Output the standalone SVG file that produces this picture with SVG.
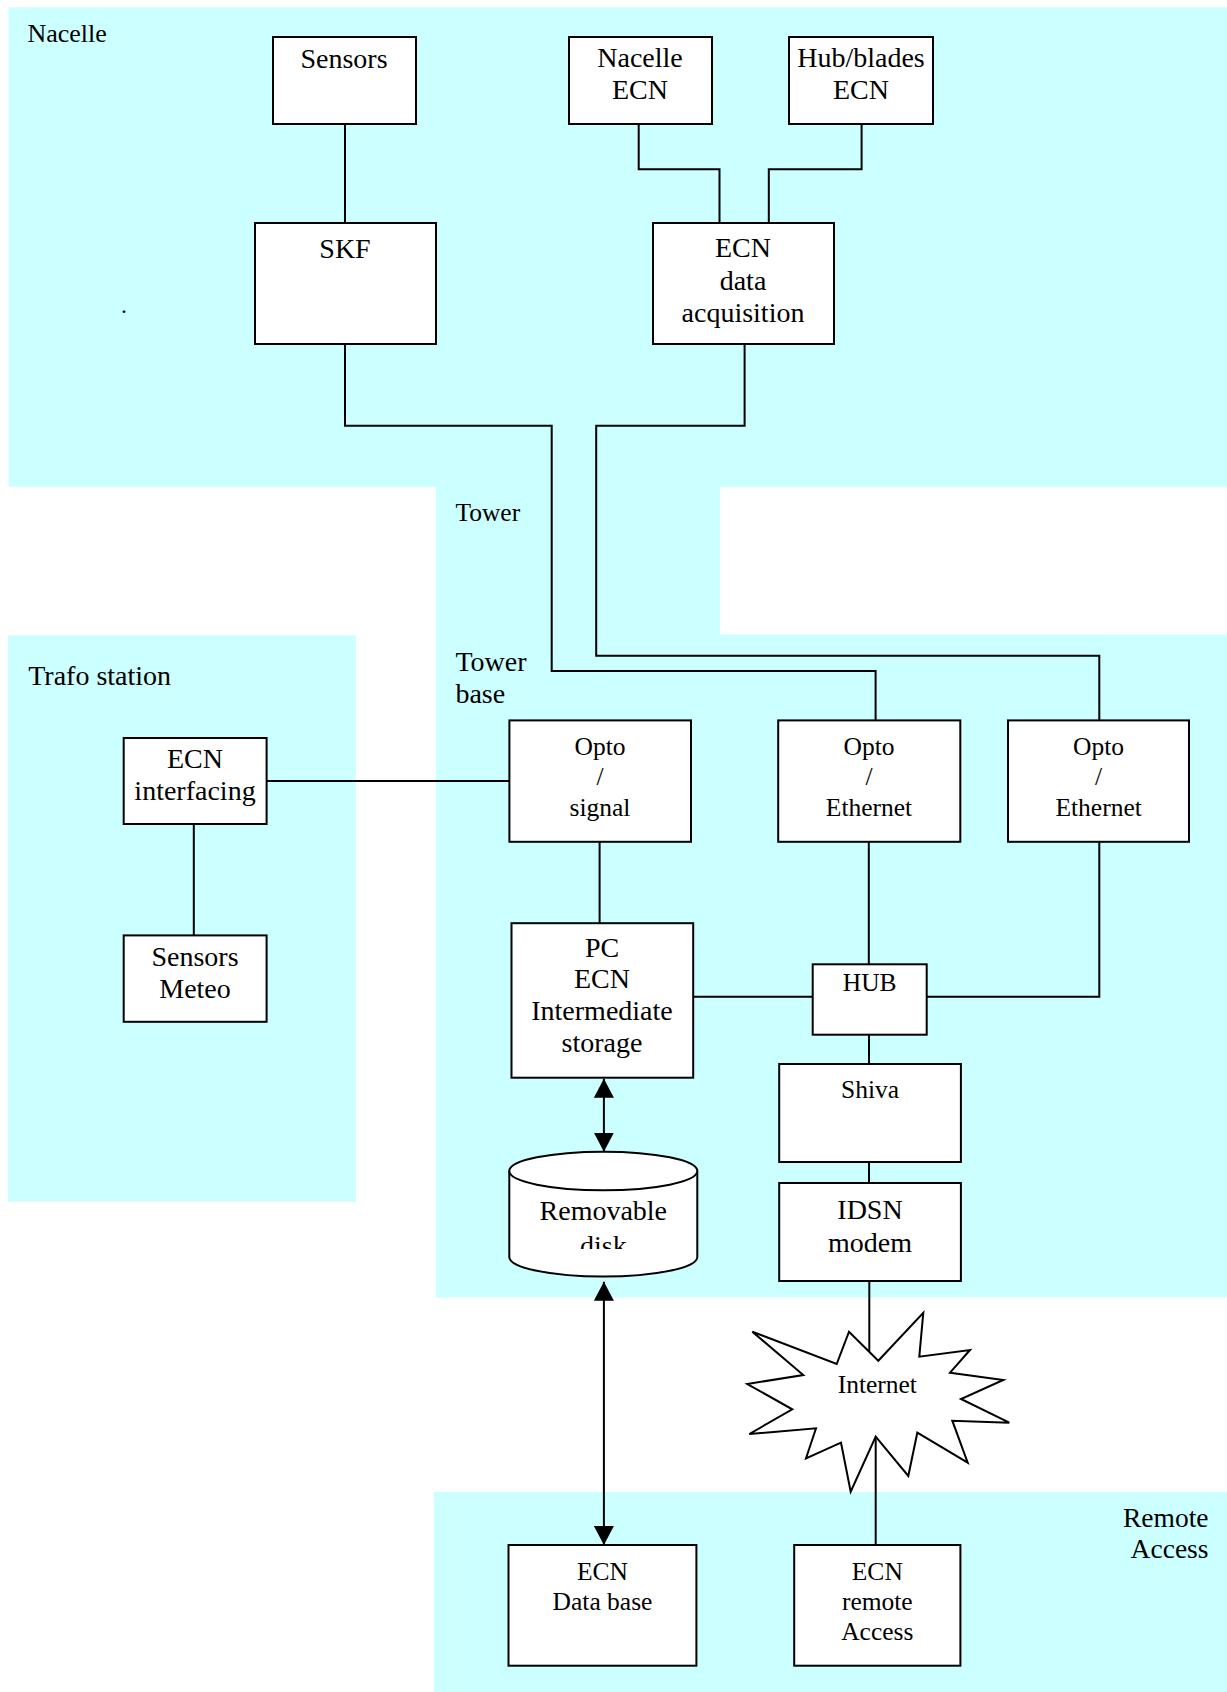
<svg xmlns="http://www.w3.org/2000/svg" width="1227" height="1692" viewBox="0 0 1227 1692">
<style>
.panel{fill:#CCFFFF;stroke:none}
.box{fill:#FFFFFF;stroke:#000;stroke-width:2}
.t{font-family:"Liberation Serif","Times New Roman",serif;font-size:28px;fill:#000;text-anchor:middle}
.s{font-size:25.5px}
.lbl{font-family:"Liberation Serif","Times New Roman",serif;fill:#000}
.wire{fill:none;stroke:#000;stroke-width:2}
</style>
<defs>
<marker id="arr" viewBox="0 0 19 20" refX="19" refY="10" markerWidth="19" markerHeight="20" markerUnits="userSpaceOnUse" orient="auto-start-reverse">
<path d="M0,0 L19,10 L0,20 Z" fill="#000"/>
</marker>
<clipPath id="diskclip"><rect x="500" y="1140" width="210" height="109"/></clipPath>
</defs>
<rect width="1227" height="1692" fill="#FFFFFF"/>
<g id="panels">
<rect class="panel" x="8.6" y="7.3" width="1218.4" height="479.4"/>
<rect class="panel" x="436" y="486" width="284" height="149"/>
<rect class="panel" x="436" y="634.6" width="791" height="662.9"/>
<rect class="panel" x="8" y="635.4" width="348" height="566.3"/>
<rect class="panel" x="434" y="1492" width="793" height="200"/>
<text class="lbl" x="27.4" y="41.7" font-size="26">Nacelle</text>
<text class="lbl" x="455.4" y="521" font-size="25.5">Tower</text>
<text class="lbl" x="455.4" y="671" font-size="28">Tower</text>
<text class="lbl" x="455.4" y="703" font-size="28">base</text>
<text class="lbl" x="28.2" y="685" font-size="28">Trafo station</text>
<text class="lbl" x="1208.5" y="1526.7" font-size="27.5" text-anchor="end">Remote</text>
<text class="lbl" x="1208.5" y="1558.3" font-size="27.5" text-anchor="end">Access</text>
<text class="lbl" x="121" y="313" font-size="24">.</text>
</g>
<g id="connectors">
<path class="wire" d="M345,124 V223"/>
<path class="wire" d="M638.7,124 V169.3 H719.5 V223"/>
<path class="wire" d="M861.6,124 V169.3 H768.8 V223"/>
<path class="wire" d="M345,344 V425.7 H551.7 V671 H875.6 V720.4"/>
<path class="wire" d="M744.6,344 V425.7 H596.2 V655.7 H1099.3 V720.4"/>
<path class="wire" d="M266.6,781 H509.4"/>
<path class="wire" d="M193.8,822 V935.4"/>
<path class="wire" d="M599.6,841.8 V923.2"/>
<path class="wire" d="M868.8,841.8 V964.3"/>
<path class="wire" d="M1099.3,841.8 V996.8 H926.7"/>
<path class="wire" d="M693.2,996.8 H812.7"/>
<path class="wire" d="M869,1034.7 V1064"/>
<path class="wire" d="M869,1162 V1183"/>
<path class="wire" d="M869.3,1281 V1351.7"/>
<path class="wire" d="M875.7,1436.7 V1545"/>
<path class="wire" d="M603.9,1078.7 V1151.7" marker-start="url(#arr)" marker-end="url(#arr)"/>
<path class="wire" d="M603.9,1281.7 V1545" marker-start="url(#arr)" marker-end="url(#arr)"/>
</g>
<g id="n-sensors">
<rect class="box" x="273" y="37" width="143" height="87"/>
<text class="t" x="344" y="67.5">Sensors</text>
</g>
<g id="n-nacelle-ecn">
<rect class="box" x="569" y="37" width="143" height="87"/>
<text class="t" x="640" y="66.7">Nacelle</text>
<text class="t" x="640" y="99.3">ECN</text>
</g>
<g id="n-hub-ecn">
<rect class="box" x="789" y="37" width="144" height="87"/>
<text class="t" x="861" y="66.7">Hub/blades</text>
<text class="t" x="861" y="99.3">ECN</text>
</g>
<g id="n-skf">
<rect class="box" x="255" y="223" width="181" height="121"/>
<text class="t" x="345" y="258.3">SKF</text>
</g>
<g id="n-ecn-daq">
<rect class="box" x="653" y="223" width="181" height="121"/>
<text class="t" x="743" y="257">ECN</text>
<text class="t" x="743" y="290">data</text>
<text class="t" x="743" y="322">acquisition</text>
</g>
<g id="n-opto-signal">
<rect class="box" x="509.4" y="720.4" width="181.6" height="121.4"/>
<text class="t s" x="600" y="755">Opto</text>
<text class="t s" x="600" y="785">/</text>
<text class="t s" x="600" y="816">signal</text>
</g>
<g id="n-opto-eth1">
<rect class="box" x="778.2" y="720.4" width="182.1" height="121.4"/>
<text class="t s" x="869" y="755">Opto</text>
<text class="t s" x="869" y="785">/</text>
<text class="t s" x="869" y="816">Ethernet</text>
</g>
<g id="n-opto-eth2">
<rect class="box" x="1008" y="720.4" width="181" height="121.4"/>
<text class="t s" x="1098.6" y="755">Opto</text>
<text class="t s" x="1098.6" y="785">/</text>
<text class="t s" x="1098.6" y="816">Ethernet</text>
</g>
<g id="n-ecn-interfacing">
<rect class="box" x="123.7" y="738" width="142.9" height="86"/>
<text class="t" x="195" y="767.5">ECN</text>
<text class="t" x="195" y="800">interfacing</text>
</g>
<g id="n-sensors-meteo">
<rect class="box" x="123.7" y="935.4" width="142.9" height="86.4"/>
<text class="t" x="195" y="965.7">Sensors</text>
<text class="t" x="195" y="998">Meteo</text>
</g>
<g id="n-pc">
<rect class="box" x="511.5" y="923.2" width="181.7" height="154.5"/>
<text class="t" x="602" y="957">PC</text>
<text class="t" x="602" y="987.5">ECN</text>
<text class="t" x="602" y="1020">Intermediate</text>
<text class="t" x="602" y="1052">storage</text>
</g>
<g id="n-hub">
<rect class="box" x="812.7" y="964.3" width="114" height="70.4"/>
<text class="t s" x="869.7" y="991">HUB</text>
</g>
<g id="n-shiva">
<rect class="box" x="779.2" y="1064" width="181.7" height="98"/>
<text class="t s" x="870" y="1098">Shiva</text>
</g>
<g id="n-idsn">
<rect class="box" x="779.2" y="1183" width="181.7" height="98"/>
<text class="t" x="870" y="1219">IDSN</text>
<text class="t" x="870" y="1251.7">modem</text>
</g>
<g id="n-disk">
<path class="box" d="M509.3,1171 A94,19.3 0 0 1 697.3,1171 V1257 A94,19.5 0 0 1 509.3,1257 Z"/>
<path class="box" fill="none" d="M509.3,1171 A94,19.3 0 0 0 697.3,1171"/>
<text class="t" x="603.3" y="1220">Removable</text>
<text class="t" x="603.3" y="1255" clip-path="url(#diskclip)">disk</text>
</g>
<g id="n-internet">
<polygon class="box" points="752.3,1331.7 836.7,1364 849,1331.7 878.3,1360.7 923.3,1312.7 919.3,1356.7 970,1350 950,1372.7 1003.3,1380 961,1399 1009.3,1422.7 952.3,1420.7 967.7,1462.7 917.3,1432.7 908.3,1476 875.7,1436.7 850.7,1491.7 841,1442.7 806,1458.3 816,1428.3 749.3,1434 792.3,1409.3 747.3,1384 803.3,1375"/>
<text class="t s" x="877.3" y="1393.3">Internet</text>
</g>
<g id="n-ecn-db">
<rect class="box" x="508.5" y="1545" width="187.9" height="120.7"/>
<text class="t s" x="602.5" y="1580">ECN</text>
<text class="t s" x="602.5" y="1610">Data base</text>
</g>
<g id="n-ecn-remote">
<rect class="box" x="794.2" y="1545" width="166.2" height="120.7"/>
<text class="t s" x="877.3" y="1580">ECN</text>
<text class="t s" x="877.3" y="1610">remote</text>
<text class="t s" x="877.3" y="1640">Access</text>
</g>
</svg>
